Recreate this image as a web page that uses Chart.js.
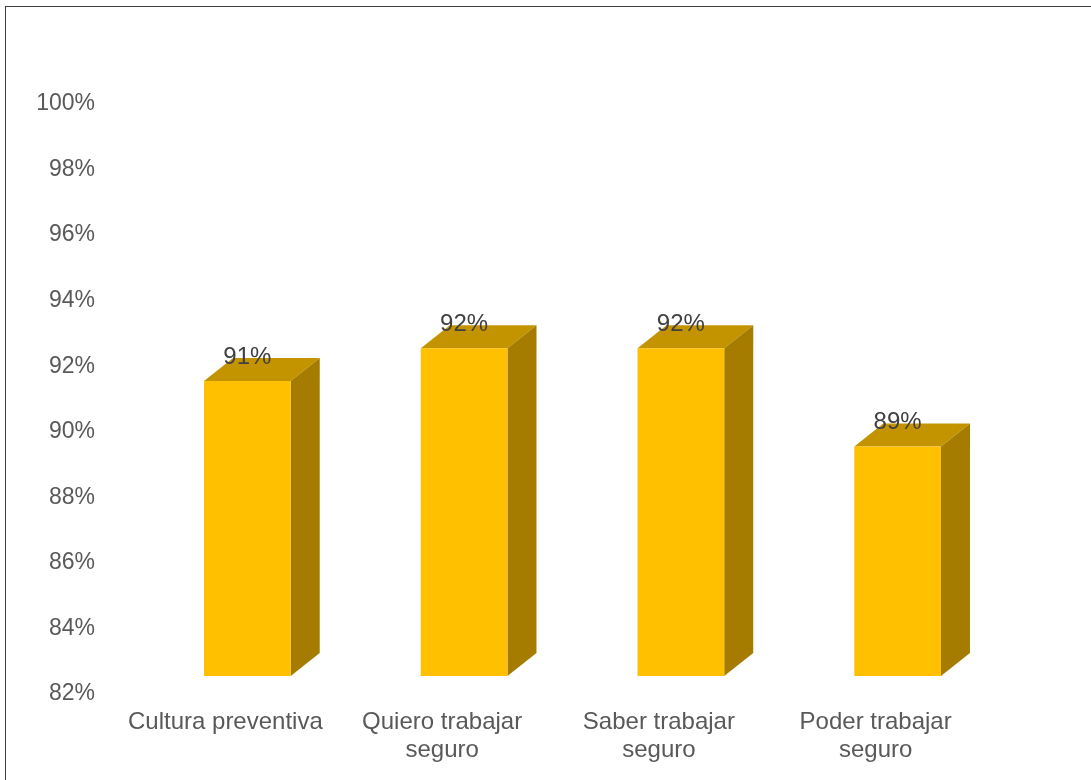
<!DOCTYPE html>
<html lang="es">
<head>
    <meta charset="UTF-8">
    <title>Cultura preventiva</title>
    <script src="https://cdn.jsdelivr.net/npm/chart.js"></script>
    <style>
        html, body { margin: 0; padding: 0; background: #ffffff; overflow: hidden; }
        .wrap { position: relative; width: 1091px; height: 780px; }
        .frame {
            position: absolute; left: 5px; top: 6px; width: 1200px; height: 900px;
            border: 1.5px solid #404040; box-sizing: border-box;
        }
        canvas { position: absolute; left: 0; top: 0; }
    </style>
</head>
<body>
<div class="wrap">
    <div class="frame"></div>
    <canvas id="chart" width="1091" height="780"></canvas>
</div>
<script>
    // data
    const categories = ['Cultura preventiva', ['Quiero trabajar', 'seguro'], ['Saber trabajar', 'seguro'], ['Poder trabajar', 'seguro']];
    const values = [91, 92, 92, 89];
    const axisMin = 82, axisMax = 100, axisStep = 2;

    // 3d look: front face shifted, depth to the back
    const shiftX = 22, shiftY = -18;
    const depthX = 29, depthY = -23;

    const bar3d = {
        id: 'bar3d',
        beforeDatasetDraw(chart, args) {
            const ctx = chart.ctx;
            const meta = chart.getDatasetMeta(args.index);
            ctx.save();
            meta.data.forEach(el => {
                const left = el.x - el.width / 2 + shiftX;
                const right = el.x + el.width / 2 + shiftX;
                const top = el.y + shiftY;
                const bottom = Math.min(el.base, chart.chartArea.bottom) + shiftY;
                // top face
                ctx.fillStyle = '#C49300';
                ctx.beginPath();
                ctx.moveTo(left, top);
                ctx.lineTo(left + depthX, top + depthY);
                ctx.lineTo(right + depthX, top + depthY);
                ctx.lineTo(right, top);
                ctx.closePath();
                ctx.fill();
                // side face
                ctx.fillStyle = '#A67C00';
                ctx.beginPath();
                ctx.moveTo(right, top);
                ctx.lineTo(right + depthX, top + depthY);
                ctx.lineTo(right + depthX, bottom + depthY);
                ctx.lineTo(right, bottom);
                ctx.closePath();
                ctx.fill();
            });
            ctx.restore();
            ctx.save();
            ctx.translate(shiftX, shiftY);
        },
        afterDatasetDraw(chart) {
            chart.ctx.restore();
        },
        afterDatasetsDraw(chart) {
            const ctx = chart.ctx;
            const meta = chart.getDatasetMeta(0);
            ctx.save();
            ctx.font = '24px "Liberation Sans", Arial, sans-serif';
            ctx.fillStyle = '#404040';
            ctx.textAlign = 'center';
            ctx.textBaseline = 'middle';
            meta.data.forEach((el, i) => {
                ctx.fillText(values[i] + '%', el.x + shiftX, el.y + shiftY - 24);
            });
            ctx.restore();
        }
    };

    new Chart(document.getElementById('chart'), {
        type: 'bar',
        data: {
            labels: categories,
            datasets: [{
                data: values,
                base: axisMin,
                backgroundColor: '#FFC000',
                borderWidth: 0,
                barPercentage: 0.4,
                categoryPercentage: 1
            }]
        },
        options: {
            responsive: false,
            animation: false,
            layout: { padding: { top: 104, right: 107, bottom: 0, left: 0 } },
            plugins: { legend: { display: false }, tooltip: { enabled: false } },
            scales: {
                x: {
                    grid: { display: false },
                    border: { display: false },
                    ticks: {
                        color: '#595959',
                        padding: 6,
                        maxRotation: 0,
                        autoSkip: false,
                        font: { family: '"Liberation Sans", Arial, sans-serif', size: 24, lineHeight: 1.17 }
                    },
                    afterFit(scale) { scale.height = 86; }
                },
                y: {
                    min: axisMin,
                    max: axisMax,
                    grid: { display: false },
                    border: { display: false },
                    ticks: {
                        stepSize: axisStep,
                        color: '#595959',
                        padding: 14,
                        font: { family: '"Liberation Sans", Arial, sans-serif', size: 23 },
                        callback: v => v + '%'
                    },
                    afterFit(scale) { scale.width = 117; }
                }
            }
        },
        plugins: [bar3d]
    });
</script>
</body>
</html>
